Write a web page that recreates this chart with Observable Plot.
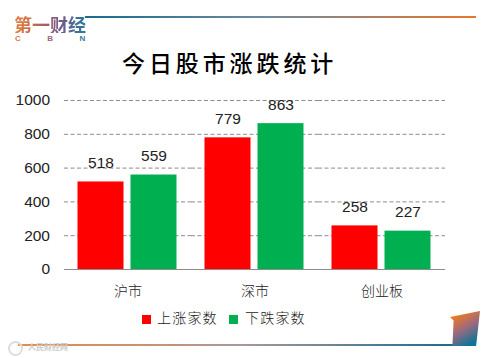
<!DOCTYPE html>
<html><head><meta charset="utf-8">
<script src="https://cdn.jsdelivr.net/npm/d3@7"></script>
<script src="https://cdn.jsdelivr.net/npm/@observablehq/plot@0.6"></script>
<style>
html,body{margin:0;background:#fff;overflow:hidden}
#wrap{position:relative;width:491px;height:358px;overflow:hidden;font-family:"Noto Sans CJK SC",sans-serif}
#wrap>*{position:absolute}
#chart{left:0;top:0}
.line{height:1.5px}
#title{left:122px;top:44px;font-size:23px;letter-spacing:3.9px;color:#000;font-family:"Noto Sans CJK SC";font-weight:500;line-height:36px;white-space:nowrap}
#logo{left:14px;top:15px;font-size:18px;font-weight:700;line-height:18px;white-space:nowrap;background:linear-gradient(90deg,#e8803a,#b0605a 40%,#6f5a90 65%,#2a7a9a);-webkit-background-clip:text;background-clip:text;color:transparent}
#cbn{left:15px;top:35px;font:700 8px/8px "Liberation Sans";letter-spacing:26.5px;white-space:nowrap}
.sw{width:9px;height:9px;top:315px}
.lg{top:306px;font-size:14px;line-height:22px;letter-spacing:1.2px;color:#222;white-space:nowrap;font-weight:300}
#wmi{left:8px;top:341px;width:11px;height:11px;border:2.5px solid #ddd;border-radius:50%}
#wm{left:28px;top:342px;font-size:8px;line-height:10px;color:#ccc;white-space:nowrap;font-weight:700}
</style></head><body>
<div id="wrap"></div>
<script>
const markets = ["沪市", "深市", "创业板"];
const seriesNames = ["上涨家数", "下跌家数"];
const upCounts = [518, 779, 258];
const downCounts = [559, 863, 227];
const seriesColors = ["#ff0000", "#00b050"];
const yTicks = [0, 200, 400, 600, 800, 1000];
const titleText = "今日股市涨跌统计";

const rows = markets.flatMap((m, i) => [
  {market: m, series: seriesNames[0], value: upCounts[i]},
  {market: m, series: seriesNames[1], value: downCounts[i]}
]);
const num = '"Liberation Sans"';
const chart = Plot.plot({
  width: 491, height: 358,
  marginLeft: 62.5, marginRight: 45, marginTop: 100, marginBottom: 89,
  style: {background: "transparent", fontFamily: "Noto Sans CJK SC"},
  fx: {domain: markets, padding: 0, label: null},
  x: {domain: seriesNames, paddingInner: 0.13, paddingOuter: 0.26, axis: null},
  y: {domain: [0, 1000], ticks: yTicks, label: null},
  color: {domain: seriesNames, range: seriesColors},
  marks: [
    Plot.ruleY(yTicks.filter(d => d > 0), {stroke: "#8c8c8c", strokeDasharray: "4 2.5", strokeWidth: 1, strokeOpacity: 1}),
    Plot.barY(rows, {fx: "market", x: "series", y: "value", fill: "series"}),
    Plot.ruleY([0], {stroke: "#8c8c8c", strokeWidth: 1}),
    Plot.text(rows, {fx: "market", x: "series", y: "value", text: d => String(d.value), dy: -19, fontSize: 15.5, fill: "#222", fontFamily: num}),
    Plot.axisY({tickSize: 0, tickPadding: 14.5, ticks: yTicks, tickFormat: d => String(d), fontSize: 15.5, label: null, fill: "#222", fontFamily: num}),
    Plot.axisFx({anchor: "bottom", tickSize: 0, tickPadding: 17, fontSize: 14, label: null, fill: "#222", fontWeight: 300})
  ]
});
const wrap = document.getElementById("wrap");
wrap.appendChild(Object.assign(chart, {id: "chart"}));
function add(html){const t=document.createElement("div");t.innerHTML=html;wrap.appendChild(t.firstElementChild);}
add(`<div id="title">${titleText}</div>`);
add(`<div id="logo">第一财经</div>`);
add(`<div id="cbn"><span style="color:#e07a45">C</span><span style="color:#a0657a">B</span><span style="color:#3a7a9a">N</span></div>`);
add(`<div class="line" style="left:85px;top:16px;width:391px;background:linear-gradient(90deg,#1a6a8e,#6d8aa0 45%,#e8762c)"></div>`);
add(`<div class="line" style="left:18px;top:344px;width:440px;background:linear-gradient(90deg,#ee8a45,#a99 50%,#1a6a8e)"></div>`);
add(`<div style="left:450px;top:311px;width:30px;height:35px;clip-path:polygon(0 17%,100% 0,87% 100%,8% 100%,12% 27%);background:linear-gradient(150deg,#ee7a22 15%,#9a6a80 50%,#0f7596 85%)"></div>`);
add(`<div id="wmi"></div>`);
add(`<div id="wm">人民财经网</div>`);
const lx=[142,229], tx=[157,245];
seriesNames.forEach((s,i)=>{
  add(`<div class="sw" style="left:${lx[i]}px;background:${seriesColors[i]}"></div>`);
  add(`<div class="lg" style="left:${tx[i]}px">${s}</div>`);
});
</script>
</body></html>
